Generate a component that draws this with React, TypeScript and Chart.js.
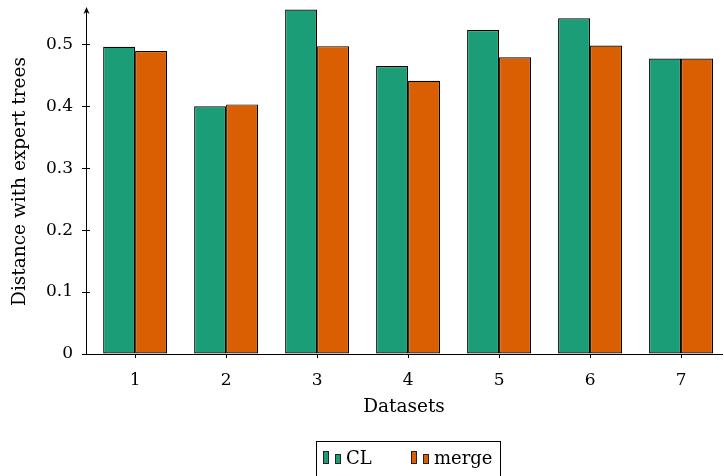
import React, { useEffect, useRef } from "react";
import { Chart, registerables } from "chart.js";

Chart.register(...registerables);

const categories = [1, 2, 3, 4, 5, 6, 7];
const clValues = [0.496, 0.4, 0.556, 0.465, 0.523, 0.542, 0.477];
const mergeValues = [0.489, 0.403, 0.497, 0.441, 0.479, 0.498, 0.477];
const yTicks = [0, 0.1, 0.2, 0.3, 0.4, 0.5];
const seriesNames = ["CL", "merge"];
const seriesColors = ["#1b9e77", "#d95f02"];

const FONT = "'DejaVu Serif', serif";
const FS = 17;
const TFS = 18.5;

const decorPlugin = {
  id: "decor",
  afterDraw(chart: any) {
    const { ctx, chartArea, scales } = chart;
    const x0 = chartArea.left;
    ctx.save();
    ctx.strokeStyle = "#000";
    ctx.fillStyle = "#000";
    ctx.lineWidth = 1;
    ctx.beginPath();
    ctx.moveTo(x0 + 0.5, chartArea.top - 2);
    ctx.lineTo(x0 - 2.5, chartArea.top + 5);
    ctx.lineTo(x0 + 0.5, chartArea.top + 3);
    ctx.lineTo(x0 + 3.5, chartArea.top + 5);
    ctx.closePath();
    ctx.fill();
    const ys = scales.y;
    for (const t of yTicks) {
      const py = Math.round(ys.getPixelForValue(t)) + 0.5;
      ctx.beginPath();
      ctx.moveTo(x0, py);
      ctx.lineTo(x0 + 4, py);
      ctx.stroke();
    }
    // legend
    const bx = 316.5, by = 441.5, bw = 184, bh = 40;
    ctx.fillStyle = "#fff";
    ctx.fillRect(bx, by, bw, bh);
    ctx.strokeStyle = "#000";
    ctx.strokeRect(bx, by, bw, bh);
    const items = [
      { x: 323, label: seriesNames[0], color: seriesColors[0] },
      { x: 411, label: seriesNames[1], color: seriesColors[1] },
    ];
    ctx.font = `${FS + 1}px ${FONT}`;
    ctx.textBaseline = "alphabetic";
    ctx.textAlign = "left";
    for (const it of items) {
      ctx.fillStyle = it.color;
      ctx.strokeStyle = "#222";
      ctx.fillRect(it.x + 0.5, 451.5, 5, 12);
      ctx.strokeRect(it.x + 0.5, 451.5, 5, 12);
      ctx.fillRect(it.x + 12.5, 454.5, 5, 9);
      ctx.strokeRect(it.x + 12.5, 454.5, 5, 9);
      ctx.fillStyle = "#000";
      ctx.fillText(it.label, it.x + 23, 464);
    }
    ctx.restore();
  },
};

export default function App() {
  const ref = useRef<HTMLCanvasElement | null>(null);
  useEffect(() => {
    document.body.style.margin = "0";
    const canvas = ref.current;
    if (!canvas) return;
    const chart = new Chart(canvas, {
      type: "bar",
      data: {
        datasets: [clValues, mergeValues].map((vals, si) => ({
          label: seriesNames[si],
          data: categories.map((c, i) => ({ x: c, y: vals[i] })),
          backgroundColor: seriesColors[si],
          borderColor: "#000",
          borderWidth: 1.2,
          borderSkipped: false,
          categoryPercentage: 0.703,
          barPercentage: 1,
        })),
      },
      options: {
        responsive: false,
        animation: false,
        events: [],
        layout: { padding: { top: 9, right: 2, bottom: 58, left: 0 } },
        plugins: { legend: { display: false }, tooltip: { enabled: false } },
        scales: {
          x: {
            type: "linear",
            min: 0.46,
            max: 7.45,
            offset: false,
            afterBuildTicks: (s: any) => {
              s.ticks = categories.map((v) => ({ value: v }));
            },
            afterFit: (s: any) => {
              s.height = 64;
              s.paddingLeft = 0;
              s.paddingRight = 0;
            },
            grid: {
              offset: false,
              drawOnChartArea: false,
              tickLength: 4,
              color: "#000",
            },
            border: { display: true, color: "#000", width: 1 },
            ticks: {
              color: "#000",
              padding: 12,
              font: { family: FONT, size: FS },
              callback: (v: any) => String(v),
            },
            title: {
              display: true,
              text: "Datasets",
              color: "#000",
              font: { family: FONT, size: TFS },
              padding: { top: 0, bottom: 0 },
            },
          },
          y: {
            min: 0,
            max: 0.557,
            afterBuildTicks: (s: any) => {
              s.ticks = yTicks.map((v) => ({ value: v }));
            },
            afterFit: (s: any) => {
              s.width = 86;
              s.paddingTop = 0;
              s.paddingBottom = 0;
            },
            grid: {
              drawOnChartArea: false,
              tickLength: 4,
              color: "#000",
            },
            border: { display: true, color: "#000", width: 1 },
            ticks: {
              color: "#000",
              padding: 9,
              font: { family: FONT, size: FS },
              callback: (v: any) => (v === 0 ? "0" : Number(v).toFixed(1)),
            },
            title: {
              display: true,
              text: "Distance with expert trees",
              color: "#000",
              font: { family: FONT, size: TFS },
              padding: { top: 9, bottom: 0 },
            },
          },
        },
      },
      plugins: [decorPlugin],
    } as any);
    return () => chart.destroy();
  }, []);
  return (
    <div style={{ width: 724, height: 476 }}>
      <canvas ref={ref} width={724} height={476} style={{ display: "block" }} />
    </div>
  );
}
